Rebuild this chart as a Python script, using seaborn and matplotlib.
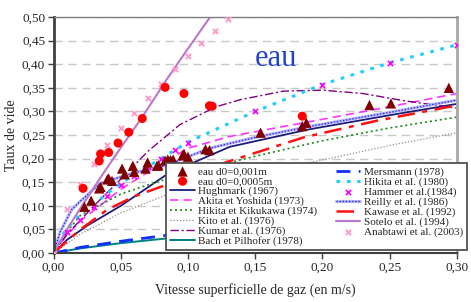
import numpy as np
import seaborn as sns
import matplotlib
matplotlib.use("Agg")
import matplotlib.pyplot as plt
from matplotlib.ticker import FuncFormatter, MultipleLocator

# ---- data ----
# experimental points
tri_x = [0.023, 0.028, 0.034, 0.035, 0.040, 0.041, 0.0435, 0.051, 0.053, 0.059, 0.060,
         0.0685, 0.070, 0.077, 0.078, 0.083, 0.085, 0.087, 0.089, 0.096, 0.097, 0.100,
         0.113, 0.116, 0.154, 0.185, 0.188, 0.235, 0.251, 0.294]
tri_y = [0.098, 0.111, 0.137, 0.140, 0.156, 0.158, 0.153, 0.179, 0.167, 0.185, 0.172,
         0.179, 0.192, 0.185, 0.186, 0.196, 0.198, 0.197, 0.198, 0.207, 0.210, 0.204,
         0.220, 0.218, 0.255, 0.269, 0.276, 0.3135, 0.317, 0.350]

circ_x = [0.022, 0.034, 0.035, 0.041, 0.048, 0.056, 0.066, 0.083, 0.097, 0.116, 0.118, 0.185]
circ_y = [0.137, 0.195, 0.210, 0.213, 0.233, 0.256, 0.285, 0.351, 0.338, 0.312, 0.311, 0.290]

hammer_x = [0.01, 0.02, 0.03, 0.04, 0.05, 0.06, 0.07, 0.08, 0.09, 0.10, 0.15, 0.20, 0.25, 0.30]
hammer_y = [0.045, 0.071, 0.098, 0.121, 0.144, 0.164, 0.182, 0.199, 0.218, 0.234,
            0.301, 0.357, 0.403, 0.441]

anab_x = [0.0, 0.01, 0.02, 0.03, 0.04, 0.05, 0.06, 0.07, 0.08, 0.09, 0.10, 0.11, 0.12, 0.13]
anab_y = [0.0, 0.093, 0.146, 0.189, 0.228, 0.265, 0.297, 0.329, 0.359, 0.389, 0.417,
          0.444, 0.470, 0.496]

# correlations
hugh_x = [0, 0.01, 0.025, 0.05, 0.085, 0.131, 0.19, 0.25, 0.30]
hugh_y = [0, 0.028, 0.058, 0.100, 0.168, 0.225, 0.262, 0.292, 0.316]

akita_x = [0, 0.01, 0.02, 0.05, 0.075, 0.10, 0.131, 0.15, 0.19, 0.25, 0.30]
akita_y = [0, 0.038, 0.068, 0.135, 0.180, 0.222, 0.247, 0.257, 0.278, 0.310, 0.338]

hikik_x = [0, 0.01, 0.02, 0.05, 0.074, 0.10, 0.15, 0.20, 0.25, 0.30]
hikik_y = [0, 0.045, 0.080, 0.125, 0.148, 0.170, 0.205, 0.238, 0.265, 0.288]

kito_x = [0, 0.02, 0.05, 0.09, 0.15, 0.20, 0.25, 0.30]
kito_y = [0, 0.040, 0.085, 0.130, 0.170, 0.197, 0.228, 0.255]

kumar_x = [0, 0.01, 0.03, 0.052, 0.07, 0.094, 0.121, 0.139, 0.171, 0.20, 0.23, 0.26, 0.30]
kumar_y = [0, 0.040, 0.100, 0.162, 0.215, 0.272, 0.310, 0.325, 0.343, 0.345, 0.338, 0.323, 0.307]

bach_x = [0, 0.02, 0.05, 0.084, 0.15, 0.20, 0.30]
bach_y = [0, 0.010, 0.021, 0.031, 0.045, 0.053, 0.066]

mers_x = [0, 0.02, 0.05, 0.085, 0.15, 0.20, 0.30]
mers_y = [0, 0.012, 0.025, 0.038, 0.055, 0.065, 0.080]

hik80_x = [0, 0.005, 0.01, 0.02, 0.05, 0.10, 0.15, 0.20, 0.25, 0.30]
hik80_y = [0, 0.030, 0.052, 0.082, 0.148, 0.235, 0.300, 0.357, 0.403, 0.441]

reilly_x = [0, 0.005, 0.0135, 0.02, 0.035, 0.06, 0.084, 0.116, 0.15, 0.19, 0.25, 0.30]
reilly_y = [0, 0.045, 0.092, 0.110, 0.148, 0.170, 0.186, 0.222, 0.245, 0.268, 0.298, 0.324]

kawase_x = [0, 0.02, 0.04, 0.06, 0.094, 0.129, 0.186, 0.24, 0.30]
kawase_y = [0, 0.050, 0.092, 0.120, 0.155, 0.193, 0.245, 0.280, 0.313]

sotelo_x = [0, 0.01, 0.02, 0.0345, 0.05, 0.066, 0.084, 0.10, 0.118]
sotelo_y = [0, 0.050, 0.095, 0.158, 0.223, 0.288, 0.367, 0.433, 0.506]

sns.set_style("white")
plt.rcParams['font.family'] = ['Liberation Serif', 'DejaVu Serif']

fig = plt.figure(figsize=(4.71, 3.02), dpi=100)
ax = fig.add_axes([0.1136, 0.162, 0.8564, 0.7817])

# lines
def line(x, y, color, ls='-', lw=1.2, z=2):
    sns.lineplot(x=x, y=y, color=color, linestyle=ls, lw=lw, sort=False,
                 estimator=None, ax=ax, zorder=z, legend=False)
    return ax.lines[-1]

h_hugh = line(hugh_x, hugh_y, '#1c1c7a', '-', 1.3)
h_akita = line(akita_x, akita_y, '#ff33ff', (0, (5, 3)), 1.2)
h_hikik = line(hikik_x, hikik_y, '#1a8a1a', (0, (1.2, 1.8)), 1.2)
h_kito = line(kito_x, kito_y, '#909090', (0, (1, 1.5)), 0.9)
h_kumar = line(kumar_x, kumar_y, '#800080', (0, (6, 2, 1.5, 2)), 1.0)
h_bach = line(bach_x, bach_y, '#008080', '-', 1.4)
h_mers = line(mers_x, mers_y, '#1030ff', (0, (5, 3)), 2.0)
h_hik80 = line(hik80_x, hik80_y, '#22ccff', (0, (1.2, 2.2)), 2.2)
h_rei1 = line(reilly_x, reilly_y, '#b4b4f8', '-', 2.2)
h_rei2 = line(reilly_x, reilly_y, '#2020e0', (0, (1, 1.5)), 0.9)
h_kaw = line(kawase_x, kawase_y, '#ff1010', (0, (7, 3, 2, 3)), 1.8)
h_sot = line(sotelo_x, sotelo_y, '#bb77cc', '-', 1.5)

# markers
sns.scatterplot(x=hammer_x, y=hammer_y, marker='x', s=14, color='#ff00ff',
                linewidth=1.2, ax=ax, zorder=4, legend=False)
h_ham = ax.collections[-1]
sns.scatterplot(x=anab_x, y=anab_y, marker='x', s=14, color='#ff99cc',
                linewidth=1.4, ax=ax, zorder=4, legend=False)
h_anab = ax.collections[-1]
sns.scatterplot(x=tri_x, y=tri_y, marker='^', s=55, color='#800000',
                edgecolor='none', ax=ax, zorder=5, legend=False)
h_tri = ax.collections[-1]
sns.scatterplot(x=circ_x, y=circ_y, marker='o', s=42, color='#ff0000',
                edgecolor='none', ax=ax, zorder=5, legend=False)
h_circ = ax.collections[-1]

ax.text(0.1497, 0.397, 'eau', color='#2244cc', fontsize=22, ha='left', va='baseline')

ax.set_xlim(0, 0.30)
ax.set_ylim(0, 0.50)
ax.xaxis.set_major_locator(MultipleLocator(0.05))
ax.yaxis.set_major_locator(MultipleLocator(0.05))
fmt = FuncFormatter(lambda v, p: f'{v:.2f}'.replace('.', ','))
ax.xaxis.set_major_formatter(fmt)
ax.yaxis.set_major_formatter(fmt)
ax.yaxis.grid(True, linestyle=(0, (6, 4)), color='#c8c8c8', lw=1)
ax.set_axisbelow(True)
ax.tick_params(axis='both', labelsize=9.5, direction='out', length=4, width=1,
               color='#404040', pad=2, bottom=True, left=True)

ax.spines['left'].set_color('#404040')
ax.spines['left'].set_linewidth(2)
ax.spines['bottom'].set_color('#404040')
ax.spines['bottom'].set_linewidth(1.5)
ax.spines['top'].set_color('#808080')
ax.spines['top'].set_linewidth(1)
ax.spines['right'].set_color('#a8a8a8')
ax.spines['right'].set_linewidth(2)

ax.set_xlabel('Vitesse superficielle de gaz (en m/s)', fontsize=10, labelpad=7)
ax.set_ylabel('Taux de vide', fontsize=10, labelpad=3)

handles = [h_tri, h_circ, h_hugh, h_akita, h_hikik, h_kito, h_kumar, h_bach,
           h_mers, h_hik80, h_ham, (h_rei1, h_rei2), h_kaw, h_sot, h_anab]
labels = ['eau d0=0,001m', 'eau d0=0,0005m', 'Hughmark (1967)', 'Akita et Yoshida (1973)',
          'Hikita et Kikukawa (1974)', 'Kito et al. (1976)', 'Kumar et al. (1976)',
          'Bach et Pilhofer (1978)', 'Mersmann (1978)', 'Hikita et al. (1980)',
          'Hammer et al.(1984)', 'Reilly et al. (1986)', 'Kawase et al. (1992)',
          'Sotelo et al. (1994)', 'Anabtawi et al. (2003)']
leg = ax.legend(handles, labels, ncol=2, loc='lower left',
                bbox_to_anchor=(0.28, 0.012, 0.745, 0.37), mode='expand',
                fontsize=8, frameon=True, fancybox=False, framealpha=1,
                edgecolor='#505050', borderpad=0.35, labelspacing=0.0,
                handlelength=2.2, handletextpad=0.3, columnspacing=0.4,
                borderaxespad=0)
leg.get_frame().set_linewidth(1.3)
leg.set_zorder(10)

fig.savefig('out.png', dpi=100)
